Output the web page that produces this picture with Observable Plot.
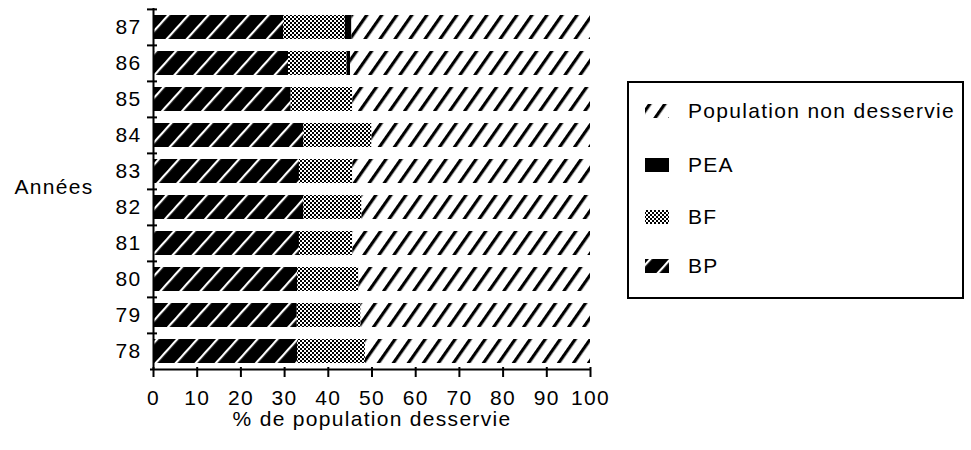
<!DOCTYPE html>
<html>
<head>
<meta charset="utf-8">
<script src="https://cdn.jsdelivr.net/npm/d3@7"></script>
<script src="https://cdn.jsdelivr.net/npm/@observablehq/plot@0.6"></script>
<style>
  body { margin: 0; background: #fff; }
</style>
</head>
<body>
<div id="chart"></div>
<script>
// ---- Data ----
const years = ["87", "86", "85", "84", "83", "82", "81", "80", "79", "78"];
const seriesNames = ["BP", "BF", "PEA", "Population non desservie"];
const bp  = [29.8, 30.9, 31.5, 34.4, 33.4, 34.4, 33.4, 33.0, 32.9, 33.0];
const bf  = [14.1, 13.4, 14.1, 15.6, 12.2, 13.3, 12.2, 14.0, 14.6, 15.5];
const pea = [1.5, 0.8, 0, 0, 0, 0, 0, 0, 0, 0];
const nonDesservie = [54.6, 54.9, 54.4, 50.0, 54.4, 52.3, 54.4, 53.0, 52.5, 51.5];
const xTicks = [0, 10, 20, 30, 40, 50, 60, 70, 80, 90, 100];
const xLabel = "% de population desservie";
const yLabel = "Années";

const table = [];
years.forEach((year, i) => {
  table.push({year, series: "BP", value: bp[i]});
  table.push({year, series: "BF", value: bf[i]});
  table.push({year, series: "PEA", value: pea[i]});
  table.push({year, series: "Population non desservie", value: nonDesservie[i]});
});

const fills = {
  "BP": "url(#pat-bp)",
  "BF": "url(#pat-bf)",
  "PEA": "#000",
  "Population non desservie": "url(#pat-non)"
};

const W = 971, H = 450, mL = 153, mR = 381, mT = 8, mB = 80;
const frameW = W - mL - mR, frameH = H - mT - mB;
const step = frameH / years.length;
const font = "'Liberation Sans', Arial, Helvetica, sans-serif";
const fs = 21;

const svg = Plot.plot({
  width: W,
  height: H,
  marginLeft: mL,
  marginRight: mR,
  marginTop: mT,
  marginBottom: mB,
  style: {fontFamily: font, fontSize: fs + "px", letterSpacing: "1.3px", color: "#000", background: "#fff"},
  x: {domain: [0, 100], ticks: xTicks, tickSize: 0, tickPadding: 20, label: null, tickFormat: d => String(d)},
  y: {domain: years, paddingInner: 0.33, paddingOuter: 0.165, tickSize: 0, tickPadding: 12, label: null},
  color: {domain: seriesNames, range: seriesNames.map(s => fills[s])},
  marks: [
    Plot.barX(table, Plot.stackX({x: "value", y: "year", fill: "series", order: seriesNames})),
    Plot.ruleX([0], {stroke: "#000", strokeWidth: 2}),
    Plot.ruleX(xTicks, {stroke: "#000", strokeWidth: 2, insetTop: frameH - 3, insetBottom: -7}),
    Plot.tickY(years, {y: d => d, dy: -step / 2, stroke: "#000", strokeWidth: 2, insetLeft: -6, insetRight: frameW - 4}),
    Plot.tickY(["78"], {y: d => d, dy: step / 2, stroke: "#000", strokeWidth: 2, insetLeft: -3}),
    Plot.text([xLabel], {frameAnchor: "bottom", lineAnchor: "middle", dy: 49, text: d => d, fill: "#000", fontSize: fs}),
    Plot.text([yLabel], {frameAnchor: "left", dx: -60, dy: -2, text: d => d, textAnchor: "end", fill: "#000", fontSize: fs})
  ]
});

// ---- Fill patterns ----
const root = d3.select(svg);
const defs = root.insert("defs", ":first-child");

const pNon = defs.append("pattern").attr("id", "pat-non")
  .attr("patternUnits", "userSpaceOnUse").attr("width", 12.3).attr("height", 24)
  .attr("patternTransform", "rotate(35)");
pNon.append("rect").attr("width", 12.3).attr("height", 24).attr("fill", "#fff");
pNon.append("rect").attr("x", 0).attr("width", 3.2).attr("height", 24).attr("fill", "#000");

const pBp = defs.append("pattern").attr("id", "pat-bp")
  .attr("patternUnits", "userSpaceOnUse").attr("width", 14.9).attr("height", 24)
  .attr("patternTransform", "rotate(42)");
pBp.append("rect").attr("width", 14.9).attr("height", 24).attr("fill", "#000");
pBp.append("rect").attr("x", 0).attr("width", 2.2).attr("height", 24).attr("fill", "#fff");

const pBf = defs.append("pattern").attr("id", "pat-bf")
  .attr("patternUnits", "userSpaceOnUse").attr("width", 4).attr("height", 4);
pBf.append("rect").attr("width", 4).attr("height", 4).attr("fill", "#fff");
pBf.append("rect").attr("x", 0).attr("y", 0).attr("width", 2).attr("height", 2).attr("fill", "#000");
pBf.append("rect").attr("x", 2).attr("y", 2).attr("width", 2).attr("height", 2).attr("fill", "#000");

// ---- Legend ----
const legendItems = ["Population non desservie", "PEA", "BF", "BP"];
const legendCenters = [111, 165, 217, 266];
const lg = root.append("g")
  .attr("font-family", font)
  .style("font-size", fs + "px")
  .attr("text-anchor", "start");
lg.append("rect").attr("x", 628).attr("y", 82).attr("width", 335).attr("height", 216)
  .attr("fill", "none").attr("stroke", "#000").attr("stroke-width", 2);
legendItems.forEach((name, i) => {
  const cy = legendCenters[i];
  lg.append("rect").attr("x", 645).attr("y", cy - 7).attr("width", 24).attr("height", 14)
    .attr("fill", fills[name]);
  lg.append("text").attr("x", 688).attr("y", cy).attr("dy", "0.35em")
    .attr("text-anchor", "start").attr("fill", "#000").text(name);
});

document.getElementById("chart").appendChild(svg);
</script>
</body>
</html>
